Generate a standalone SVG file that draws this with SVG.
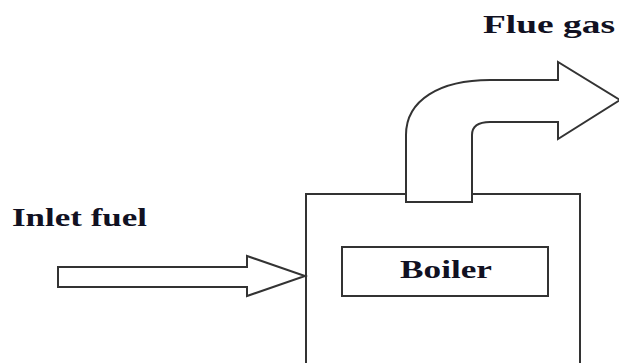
<svg xmlns="http://www.w3.org/2000/svg" width="619" height="363" viewBox="0 0 619 363">
  <style>
    .ln { fill: #ffffff; stroke: #333333; stroke-width: 2; stroke-linejoin: miter; }
    .open { fill: none; stroke: #333333; stroke-width: 2; }
    .lbl { font-family: "Liberation Serif", "DejaVu Serif", serif; font-weight: bold; font-size: 25px; fill: #111122; }
  </style>
  <rect x="0" y="0" width="619" height="363" fill="#ffffff"/>
  <g id="boiler">
    <path class="open" d="M306,364 L306,194 L580,194 L580,364"/>
    <rect class="ln" x="342" y="247" width="206" height="49"/>
    <text class="lbl" x="400" y="278" textLength="92" lengthAdjust="spacingAndGlyphs">Boiler</text>
  </g>
  <g id="connectors">
    <g id="flue-gas-arrow">
      <path class="ln" d="M406,202 L406,135 C406,100 440,80 490,80 L558,80 L558,62 L620,100 L558,139 L558,122 L490,122 C478,122 472,126 472,135 L472,202 Z"/>
    </g>
    <g id="inlet-fuel-arrow">
      <path class="ln" d="M58,267 L247,267 L247,256 L305,276 L247,296 L247,287 L58,287 Z"/>
    </g>
  </g>
  <g id="label-flue-gas">
    <text class="lbl" x="483" y="33" textLength="132" lengthAdjust="spacingAndGlyphs">Flue gas</text>
  </g>
  <g id="label-inlet-fuel">
    <text class="lbl" x="12" y="226" textLength="135" lengthAdjust="spacingAndGlyphs">Inlet fuel</text>
  </g>
</svg>
